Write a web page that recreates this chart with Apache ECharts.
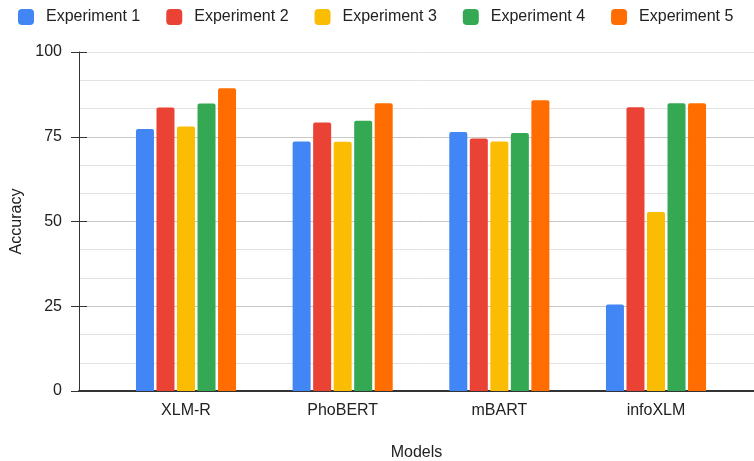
<!DOCTYPE html>
<html>
<head>
<meta charset="utf-8">
<script src="https://cdn.jsdelivr.net/npm/echarts@6/dist/echarts.min.js"></script>
<style>html,body{margin:0;padding:0;background:#fff}#c{width:754px;height:461px}</style>
</head>
<body>
<div id="c"></div>
<script>
const categories = ['XLM-R', 'PhoBERT', 'mBART', 'infoXLM'];
const seriesNames = ['Experiment 1', 'Experiment 2', 'Experiment 3', 'Experiment 4', 'Experiment 5'];
const exp1 = [77.3, 73.6, 76.4, 25.5];
const exp2 = [83.6, 79.2, 74.5, 83.7];
const exp3 = [78.0, 73.5, 73.6, 52.8];
const exp4 = [84.8, 79.7, 76.1, 84.9];
const exp5 = [89.3, 84.9, 85.8, 84.9];
const yTicks = [0, 25, 50, 75, 100];
const colors = ['#4285F4', '#EA4335', '#FBBC04', '#34A853', '#FF6D01'];

const FONT = 'Liberation Sans, Arial, sans-serif';
const allData = [exp1, exp2, exp3, exp4, exp5];
const chart = echarts.init(document.getElementById('c'), null, {renderer: 'canvas'});
chart.setOption({
  animation: false,
  color: colors,
  textStyle: {fontFamily: FONT},
  legend: {
    left: 18, top: 9, padding: 0,
    icon: 'roundRect', itemWidth: 16, itemHeight: 16, itemGap: 26,
    textStyle: {fontFamily: FONT, fontSize: 16, color: '#222', padding: [0, 0, 0, 7]},
    data: seriesNames
  },
  grid: [
    {left: 79, right: 0, top: 52, bottom: 70, outerBoundsMode: 'none', containLabel: false},
    {left: 107.67, right: 19.67, top: 52, bottom: 70, outerBoundsMode: 'none', containLabel: false}
  ],
  xAxis: [
    {gridIndex: 0, type: 'value', min: 0, max: 1,
     name: 'Models', nameLocation: 'middle', nameGap: 54,
     nameTextStyle: {fontFamily: FONT, fontSize: 16, color: '#222'},
     axisLine: {show: true, lineStyle: {color: '#333', width: 2}},
     axisTick: {show: false}, axisLabel: {show: false}, splitLine: {show: false}},
    {gridIndex: 1, type: 'category', data: categories,
     axisLine: {show: false}, axisTick: {show: false},
     axisLabel: {fontFamily: FONT, fontSize: 16, color: '#222', margin: 12}}
  ],
  yAxis: [
    {gridIndex: 0, type: 'value', position: 'left', min: yTicks[0], max: yTicks[yTicks.length - 1], interval: 25,
     name: 'Accuracy', nameLocation: 'middle', nameGap: 53, nameRotate: 90,
     nameTextStyle: {fontFamily: FONT, fontSize: 16, color: '#222'},
     axisLine: {show: true, lineStyle: {color: '#333', width: 1}},
     axisTick: {show: true, length: 8, lineStyle: {color: '#333'}},
     axisLabel: {fontFamily: FONT, fontSize: 16, color: '#222', margin: 17},
     splitLine: {show: true, lineStyle: {color: ['#c8c8c8', '#c8c8c8', '#c8c8c8', '#c8c8c8', '#e2e2e2']}},
     minorTick: {show: false, splitNumber: 3},
     minorSplitLine: {show: true, lineStyle: {color: '#e2e2e2'}}},
    {gridIndex: 0, type: 'value', position: 'left', offset: 0, min: 0, max: 100, interval: 25,
     axisLine: {show: false},
     axisTick: {show: true, inside: true, length: 8, lineStyle: {color: '#333'}},
     axisLabel: {show: false}, splitLine: {show: false}},
    {gridIndex: 1, type: 'value', min: 0, max: 100, show: false}
  ],
  series: seriesNames.map((n, i) => ({
    name: n, type: 'bar', xAxisIndex: 1, yAxisIndex: 2,
    data: allData[i], barWidth: 18, barGap: '14%',
    itemStyle: {color: colors[i], borderRadius: [2, 2, 0, 0]}
  }))
});
</script>
</body>
</html>
